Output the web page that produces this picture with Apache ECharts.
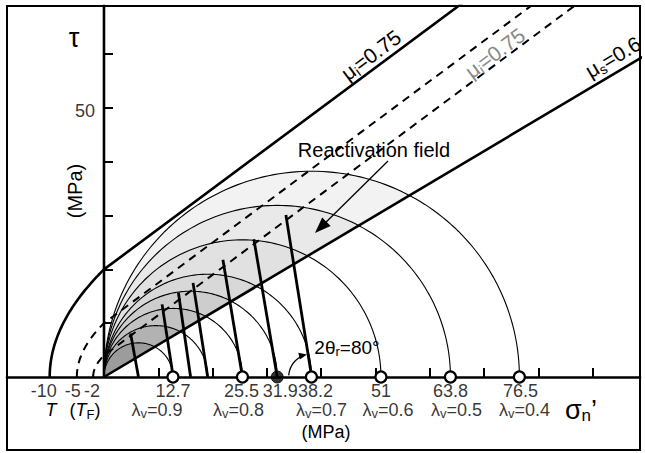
<!DOCTYPE html>
<html><head><meta charset="utf-8">
<script src="https://cdn.jsdelivr.net/npm/echarts@6/dist/echarts.min.js"></script>
<style>html,body{margin:0;padding:0;background:#fff}#c{width:645px;height:453px}</style>
</head><body><div id="c"></div>
<script>
// ---------------- data ----------------
// Effective maximum principal stress sigma1' (MPa) of each Mohr circle (sigma3' = 0)
const circleSigma1 = [12.7, 19.1, 25.5, 31.9, 38.2, 51, 63.8, 76.5];
// Markers on the sigma_n' axis
const openMarkers = [12.7, 25.5, 38.2, 51, 63.8, 76.5];
const filledMarkers = [31.9];
const lambdaV = ['0.9', '0.8', '0.7', '0.6', '0.5', '0.4'];
// x-axis tick labels (values and texts)
const xLabelValues = [-10, -5, -2, 12.7, 25.5, 31.9, 38.2, 51, 63.8, 76.5];
const xLabelTexts = ['-10', '-5', '-2', '12.7', '25.5', '31.9', '38.2', '51', '63.8', '76.5'];
const xTicks = [10, 20, 30, 40, 50, 60, 70, 80, 90];
const yTicks = [10, 20, 30, 40, 50, 60];
const yLabelValues = [50];
// Failure envelopes: tensile strengths T (MPa), intact friction mu_i
const tensileStrength = [10, 5, 2];
const muI = 0.75;
const muS = 0.6;
// Thick radii at 2θr = 80°: base on the axis (circle centre) and upper end (sigma, tau)
const radiusBase = [6.35, 12.75, 15.95, 19.1, 25.5, 31.9, 38.25];
const radiusTopSigma = [4.9, 10.7, 13.7, 16.4, 21.9, 27.6, 33.5];
const radiusTopTau = [8.1, 13.5, 15.7, 17.5, 21.8, 25.6, 30.1];
const twoThetaR = 80;
const twoThetaCentre = 38.25;

// ---------------- layout / style ----------------
const X_MIN = -17.86, X_MAX = 98.71, Y_MIN = -13.57, Y_MAX = 68.96;
const FONT = 'Liberation Sans, Arial, sans-serif';
const FS = 18;
const fillColors = { 12.7: '#9c9c9c', 19.1: '#b2b2b2', 25.5: '#c2c2c2', 31.9: '#cdcdcd', 38.2: '#d8d8d8', 51: '#e1e1e1', 63.8: '#e9e9e9', 76.5: '#f2f2f2' };
const envelopeStyles = [
  { color: '#000', width: 2.6, type: 'solid' },
  { color: '#000', width: 2, type: [8, 6] },
  { color: '#000', width: 2, type: [8, 6] }
];
const xLabelDx = [-6, -4, -1, 0, -1, 3, 4, 0, 0, 1];
const lambdaDx = [-16, -4, 10, 7, 6, 5];

function envelopePoints(T) {
  const pts = [];
  for (let k = 0; k <= 40; k++) { const s = k / 40; pts.push([T * (s * s - 1), 2 * T * s]); }
  const sEnd = (Y_MAX + 5 - 2 * T) / muI;
  pts.push([sEnd, 2 * T + muI * sEnd]);
  return pts;
}

const chart = echarts.init(document.getElementById('c'), null, { renderer: 'svg', width: 645, height: 453 });
const sortedDesc = circleSigma1.slice().sort((a, b) => b - a);

const subPad = [8, 0, 0, 0];
const rich = {
  n: { fontSize: FS, fontFamily: FONT, color: '#000' },
  s: { fontSize: 13, fontFamily: FONT, color: '#000', padding: subPad }
};

function arrowHead(tip, dir, len, half) {
  const bx = tip[0] - dir[0] * len, by = tip[1] - dir[1] * len;
  const nx = -dir[1], ny = dir[0];
  return [tip, [bx + nx * half, by + ny * half], [bx - nx * half, by - ny * half]];
}
const raDir = (function () { const dx = 315 - 388, dy = 233 - 161; const l = Math.hypot(dx, dy); return [dx / l, dy / l]; })();

function textCommon(extra) {
  return Object.assign({ fill: '#000', textAlign: 'center', textVerticalAlign: 'middle', align: 'center', verticalAlign: 'middle' }, extra);
}

const option = {
  animation: false,
  backgroundColor: '#fff',
  grid: { left: 7, right: 5, top: 6, bottom: 3, show: true, borderColor: '#000', borderWidth: 2, containLabel: false, outerBoundsMode: 'none' },
  xAxis: {
    type: 'value', min: X_MIN, max: X_MAX,
    splitLine: { show: false },
    axisLine: { show: true, onZero: true, lineStyle: { color: '#000', width: 2.6 } },
    axisTick: { show: true, inside: true, length: 9, customValues: xTicks, lineStyle: { color: '#000', width: 2 } },
    axisLabel: { show: false }
  },
  yAxis: {
    type: 'value', min: Y_MIN, max: Y_MAX,
    splitLine: { show: false },
    axisLine: { show: false, onZero: true },
    axisTick: { show: true, inside: true, length: 9, customValues: yTicks, lineStyle: { color: '#000', width: 2 } },
    axisLabel: { show: false }
  },
  series: [
    // shaded reactivation field (part of each circle above the mu_s line)
    {
      type: 'custom', z: 1, silent: true, clip: true,
      data: sortedDesc.map(v => [v, 0]),
      renderItem: function (params, api) {
        const s1 = api.value(0), c = s1 / 2;
        const si = 2 * c / (1 + muS * muS), ti = muS * si;
        const phiEnd = Math.atan2(ti, si - c);
        const pts = [];
        for (let k = 0; k <= 80; k++) { const p = Math.PI + (phiEnd - Math.PI) * k / 80; pts.push(api.coord([c + c * Math.cos(p), c * Math.sin(p)])); }
        return { type: 'polygon', shape: { points: pts }, style: { fill: fillColors[s1], stroke: null } };
      }
    },
    // Mohr circle arcs
    {
      type: 'custom', z: 2, silent: true, clip: true,
      data: circleSigma1.map(v => [v, 0]),
      renderItem: function (params, api) {
        const s1 = api.value(0), c = s1 / 2;
        const pts = [];
        for (let k = 0; k <= 120; k++) { const p = Math.PI * (1 - k / 120); pts.push(api.coord([c + c * Math.cos(p), c * Math.sin(p)])); }
        return { type: 'polyline', shape: { points: pts }, style: { stroke: '#000', lineWidth: 1.1, fill: null } };
      }
    },
    // failure envelopes
    ...tensileStrength.map((T, i) => ({
      type: 'line', z: 3, silent: true, clip: true, symbol: 'none', smooth: false,
      data: envelopePoints(T), lineStyle: envelopeStyles[i]
    })),
    // sliding friction line
    {
      type: 'line', z: 3, silent: true, clip: true, symbol: 'none',
      data: [[0, 0], [X_MAX + 5, muS * (X_MAX + 5)]], lineStyle: { color: '#000', width: 2.6 }
    },
    // tau axis line (from origin upward)
    {
      type: 'line', z: 3, silent: true, clip: true, symbol: 'none',
      data: [[0, 0], [0, Y_MAX + 2]], lineStyle: { color: '#000', width: 2.6 }
    },
    // thick radii at 2θr
    {
      type: 'custom', z: 4, silent: true, clip: true,
      data: radiusBase.map((b, i) => [b, 0, radiusTopSigma[i], radiusTopTau[i]]),
      renderItem: function (params, api) {
        const p0 = api.coord([api.value(0), 0]);
        const p1 = api.coord([api.value(2), api.value(3)]);
        return { type: 'line', shape: { x1: p0[0], y1: p0[1], x2: p1[0], y2: p1[1] }, style: { stroke: '#000', lineWidth: 2.8 } };
      }
    },
    // 2θr angle arrow
    {
      type: 'custom', z: 4, silent: true,
      data: [[twoThetaCentre, 0, twoThetaR]],
      renderItem: function (params, api) {
        const c = api.coord([api.value(0), 0]);
        const ang = api.value(2);
        const R = 23;
        const a0 = 176, a1 = 180 - ang + 7;
        const pts = [];
        for (let k = 0; k <= 30; k++) { const a = (a0 + (a1 - a0) * k / 30) * Math.PI / 180; pts.push([c[0] + R * Math.cos(a), c[1] - R * Math.sin(a)]); }
        const at = (180 - ang + 2) * Math.PI / 180;
        const tip = [c[0] + R * Math.cos(at), c[1] - R * Math.sin(at)];
        const dir = [Math.sin(at), Math.cos(at)];
        return { type: 'group', children: [
          { type: 'polyline', shape: { points: pts }, style: { stroke: '#000', lineWidth: 1.3, fill: null } },
          { type: 'polygon', shape: { points: arrowHead(tip, dir, 8, 3.5) }, style: { fill: '#000' } }
        ] };
      }
    },
    // open markers
    {
      type: 'scatter', z: 5, silent: true, symbol: 'circle', symbolSize: 11,
      data: openMarkers.map(v => [v, 0]),
      itemStyle: { color: '#fff', borderColor: '#000', borderWidth: 2.2, opacity: 1 }
    },
    // filled marker
    {
      type: 'scatter', z: 5, silent: true, symbol: 'circle', symbolSize: 12,
      data: filledMarkers.map(v => [v, 0]),
      itemStyle: { color: '#000', borderColor: '#000', borderWidth: 1 }
    },
    // x tick labels (sigma_n' values)
    {
      type: 'scatter', z: 5, silent: true, symbol: 'circle', symbolSize: 1,
      itemStyle: { color: 'rgba(0,0,0,0)' },
      data: xLabelValues.map((v, i) => ({ value: [v, 0], label: { offset: [xLabelDx[i], 14] } })),
      label: {
        show: true, position: 'inside', color: '#000', fontSize: FS, fontFamily: FONT,
        formatter: function (p) { return xLabelTexts[p.dataIndex]; }
      }
    },
    // y tick label
    {
      type: 'scatter', z: 5, silent: true, symbol: 'circle', symbolSize: 1,
      itemStyle: { color: 'rgba(0,0,0,0)' },
      data: yLabelValues.map(v => ({ value: [0, v], label: { offset: [-19, 3] } })),
      label: { show: true, position: 'inside', color: '#000', fontSize: FS, fontFamily: FONT, formatter: p => String(yLabelValues[p.dataIndex]) }
    },
    // lambda_v labels
    {
      type: 'scatter', z: 5, silent: true, symbol: 'circle', symbolSize: 1,
      itemStyle: { color: 'rgba(0,0,0,0)' },
      data: openMarkers.map((v, i) => ({ value: [v, 0], label: { offset: [lambdaDx[i], 33] } })),
      label: {
        show: true, position: 'inside', color: '#000', fontSize: FS, fontFamily: FONT,
        formatter: function (p) { return '{n|λ}{s|v}{n|=' + lambdaV[p.dataIndex] + '}'; },
        rich: rich
      }
    }
  ],
  graphic: [
    { type: 'text', z: 100, x: 74, y: 38, style: textCommon({ text: 'τ', font: '27px ' + FONT }) },
    { type: 'text', z: 100, x: 75, y: 191, rotation: Math.PI / 2, style: textCommon({ text: '(MPa)', font: '20px ' + FONT }) },
    { type: 'text', z: 100, x: 51, y: 410, style: textCommon({ text: 'T', font: 'italic ' + FS + 'px ' + FONT }) },
    { type: 'text', z: 100, x: 85, y: 410, style: textCommon({ text: '({i|T}{s|F})', rich: { i: { fontStyle: 'italic', fontSize: FS, fontFamily: FONT }, s: { fontSize: 13, fontFamily: FONT, padding: subPad } }, font: FS + 'px ' + FONT }) },
    { type: 'text', z: 100, x: 326, y: 432, style: textCommon({ text: '(MPa)', font: FS + 'px ' + FONT }) },
    { type: 'text', z: 100, x: 581, y: 410, style: textCommon({ text: 'σ{s|n}’', rich: { s: { fontSize: 17, fontFamily: FONT, padding: [11, 0, 0, 0] } }, font: '27px ' + FONT }) },
    { type: 'text', z: 100, x: 374, y: 150, style: textCommon({ text: 'Reactivation field', font: '20px ' + FONT }) },
    { type: 'line', z: 100, shape: { x1: 388, y1: 161, x2: 315 - raDir[0] * 10, y2: 233 - raDir[1] * 10 }, style: { stroke: '#000', lineWidth: 1.3 } },
    { type: 'polygon', z: 100, shape: { points: arrowHead([315, 233], raDir, 16, 6) }, style: { fill: '#000' } },
    { type: 'text', z: 100, x: 347, y: 347, style: textCommon({ text: '2θ{s|r}=80°', rich: { s: { fontSize: 13, fontFamily: FONT, padding: subPad } }, font: '19px ' + FONT }) },
    { type: 'text', z: 100, x: 371, y: 55, rotation: 36.6 * Math.PI / 180, style: textCommon({ text: 'μ{s|i}=0.75', rich: { s: { fontSize: 14, fontFamily: FONT, padding: [11, 0, 0, 0] } }, font: '21px ' + FONT }) },
    { type: 'text', z: 100, x: 495, y: 53, rotation: 36.6 * Math.PI / 180, style: textCommon({ text: 'μ{s|i}=0.75', rich: { s: { fontSize: 14, fontFamily: FONT, padding: [11, 0, 0, 0], color: '#8a8a8a' } }, font: '21px ' + FONT, fill: '#8a8a8a' }) },
    { type: 'text', z: 100, x: 613, y: 57, rotation: 30.6 * Math.PI / 180, style: textCommon({ text: 'μ{s|s}=0.6', rich: { s: { fontSize: 14, fontFamily: FONT, padding: [11, 0, 0, 0] } }, font: '21px ' + FONT }) }
  ]
};
chart.setOption(option);
</script>
</body></html>
